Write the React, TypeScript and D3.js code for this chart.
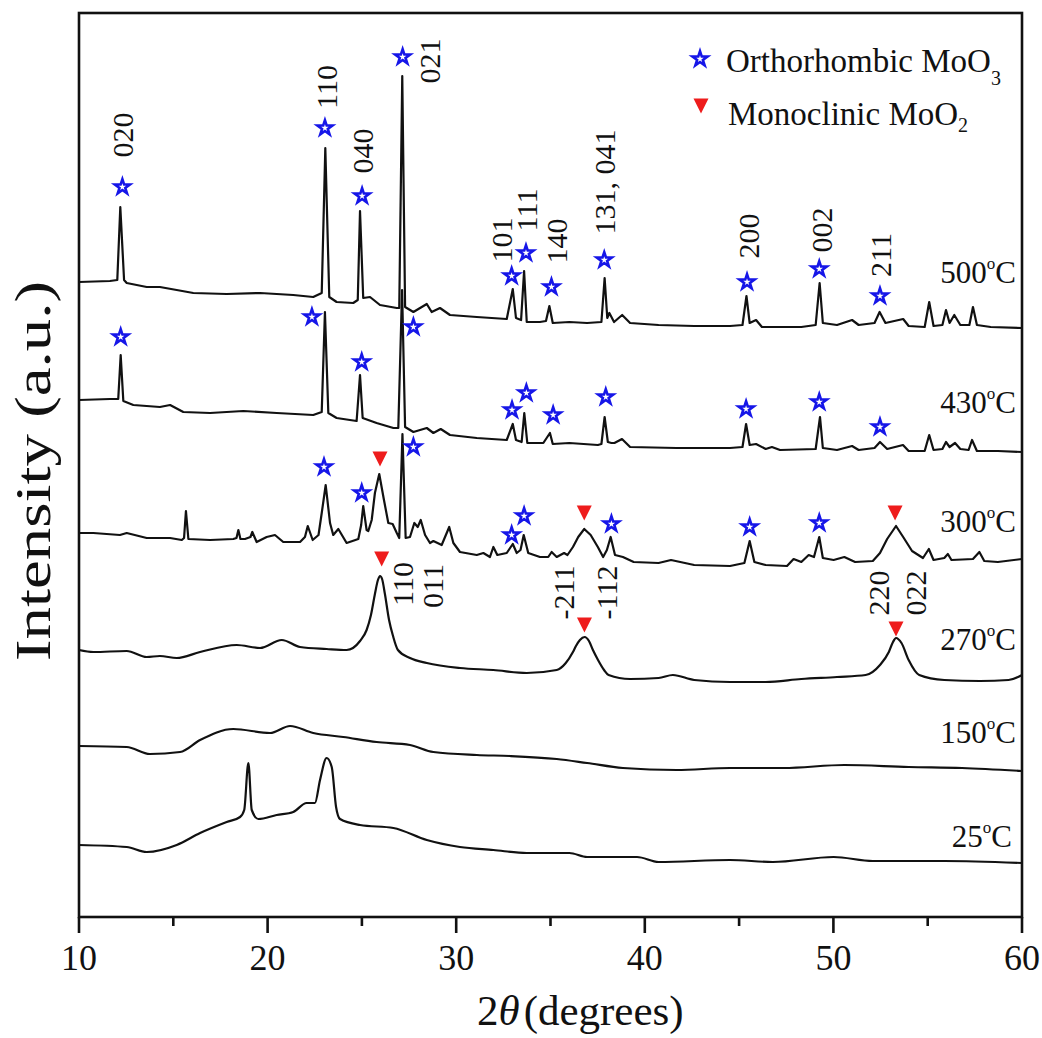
import React from "react";
import * as d3 from "d3";

// ---- XRD patterns: [2θ (deg), stacked intensity (a.u.)] ----
const pattern500: [number, number][] = [
  [10.0, 635], [11.64, 636], [12.03, 637], [12.19, 710], [12.39, 637], [12.53, 634], [13.59, 630],
  [14.29, 630], [15.18, 627], [16.06, 624], [17.83, 623], [19.6, 624], [21.36, 622], [22.42, 620],
  [22.87, 624], [23.06, 769], [23.27, 620], [23.66, 615], [24.54, 614], [24.78, 617], [24.9, 706],
  [25.07, 619], [25.43, 620], [25.96, 612], [26.85, 609], [26.98, 609], [27.14, 841], [27.29, 610],
  [27.73, 605], [28.44, 613], [28.7, 605], [29.14, 609], [29.67, 602], [31.09, 600], [32.68, 598],
  [33.0, 628], [33.17, 599], [33.44, 597], [33.6, 646], [33.74, 595], [34.44, 595], [34.76, 596],
  [34.94, 611], [35.12, 594], [36.0, 595], [36.94, 594], [37.7, 595], [37.87, 639], [38.01, 599],
  [38.12, 604], [38.37, 595], [38.8, 602], [39.22, 594], [40.73, 592], [42.62, 591], [44.52, 591],
  [45.18, 592], [45.39, 621], [45.56, 594], [45.9, 597], [46.21, 590], [48.3, 590], [49.06, 592],
  [49.27, 634], [49.44, 594], [50.19, 592], [50.99, 597], [51.34, 592], [52.18, 594], [52.45, 605],
  [52.76, 594], [53.7, 598], [53.99, 591], [54.84, 590], [55.08, 615], [55.31, 591], [55.78, 592],
  [55.97, 607], [56.16, 594], [56.41, 602], [56.73, 592], [57.21, 592], [57.4, 610], [57.61, 592],
  [58.34, 590], [60.0, 589],
];

const pattern430: [number, number][] = [
  [10.0, 517], [11.64, 518], [12.08, 518], [12.21, 562], [12.35, 516], [12.88, 512], [14.29, 510],
  [14.83, 512], [15.53, 505], [16.95, 504], [18.71, 506], [20.48, 504], [22.42, 502], [22.87, 505],
  [23.04, 605], [23.22, 504], [23.66, 499], [24.72, 496], [24.9, 542], [25.04, 499], [25.78, 494],
  [26.67, 489], [26.93, 489], [27.13, 627], [27.29, 490], [27.73, 485], [28.44, 489], [28.79, 484],
  [29.18, 488], [29.67, 482], [31.09, 479], [32.68, 477], [33.0, 493], [33.17, 477], [33.47, 475],
  [33.61, 504], [33.77, 474], [34.62, 474], [34.97, 484], [35.12, 473], [36.0, 474], [37.51, 472],
  [37.7, 473], [37.87, 500], [38.04, 475], [38.23, 474], [38.39, 474], [38.79, 478], [39.22, 470],
  [41.68, 469], [44.52, 469], [45.18, 470], [45.37, 493], [45.56, 472], [45.9, 473], [46.41, 468],
  [46.74, 470], [47.17, 467], [49.06, 468], [49.29, 500], [49.44, 469], [50.19, 467], [50.99, 471],
  [51.34, 467], [52.18, 469], [52.47, 475], [52.85, 468], [53.69, 472], [53.99, 466], [54.84, 466],
  [55.08, 482], [55.31, 467], [55.78, 468], [55.97, 475], [56.16, 470], [56.45, 474], [56.73, 468],
  [57.17, 467], [57.35, 477], [57.61, 466], [58.72, 466], [60.0, 465],
];

const pattern300: [number, number][] = [
  [10.0, 384], [10.76, 384], [12.17, 382], [12.53, 384], [13.59, 379], [14.83, 379], [15.45, 377],
  [15.57, 379], [15.67, 406], [15.8, 378], [16.95, 377], [18.18, 378], [18.35, 379], [18.45, 387],
  [18.56, 378], [18.8, 378], [19.09, 380], [19.19, 385], [19.42, 375], [19.95, 380], [20.39, 382],
  [20.83, 375], [21.72, 375], [21.98, 380], [22.13, 391], [22.39, 377], [22.7, 382], [22.87, 404],
  [23.08, 432], [23.31, 394], [23.48, 382], [23.75, 388], [24.19, 374], [24.81, 378], [24.96, 392],
  [25.07, 411], [25.25, 387], [25.34, 386], [25.52, 397], [25.69, 424], [25.92, 443], [26.17, 417],
  [26.4, 394], [26.63, 393], [26.85, 384], [26.98, 379], [27.15, 483], [27.32, 379], [27.55, 380],
  [27.78, 394], [27.96, 390], [28.12, 397], [28.35, 382], [28.61, 374], [28.79, 376], [29.23, 372],
  [29.63, 390], [29.85, 374], [30.2, 365], [31.09, 362], [31.44, 364], [31.79, 360], [31.97, 370],
  [32.18, 362], [32.68, 364], [33.0, 373], [33.21, 364], [33.41, 367], [33.58, 382], [33.82, 364],
  [34.44, 360], [34.88, 360], [35.06, 365], [35.33, 360], [35.72, 364], [35.9, 362], [36.19, 370],
  [36.47, 380], [36.79, 388], [37.13, 382], [37.51, 370], [37.79, 360], [37.99, 367], [38.19, 380],
  [38.42, 362], [38.84, 360], [39.41, 355], [40.73, 354], [41.39, 357], [42.62, 352], [44.52, 351],
  [45.28, 354], [45.56, 376], [45.81, 355], [46.41, 352], [47.54, 351], [47.89, 358], [48.3, 355],
  [48.69, 362], [48.97, 360], [49.25, 380], [49.44, 359], [50.01, 357], [50.58, 360], [51.15, 355],
  [52.09, 356], [52.47, 364], [52.85, 378], [53.32, 391], [53.7, 380], [54.17, 366], [54.75, 359],
  [55.06, 368], [55.31, 357], [55.88, 359], [56.07, 363], [56.26, 357], [57.4, 358], [57.74, 365],
  [58.0, 356], [58.72, 355], [60.0, 358],
];

const pattern270: [number, number][] = [
  [10.0, 267], [10.76, 265], [12.53, 266], [13.59, 260], [14.29, 261], [15.18, 259], [16.42, 265],
  [18.36, 272], [19.6, 269], [20.75, 277], [21.72, 270], [23.13, 268], [24.19, 267], [24.9, 276],
  [25.25, 287], [25.48, 302], [25.69, 323], [25.85, 337], [25.96, 341], [26.07, 338], [26.22, 323],
  [26.44, 297], [26.65, 281], [26.91, 267], [27.55, 259], [28.44, 254], [30.2, 249], [31.97, 247],
  [33.74, 244], [35.33, 247], [35.81, 254], [36.19, 265], [36.35, 271], [36.56, 277], [36.81, 280],
  [37.04, 276], [37.25, 267], [37.52, 257], [37.84, 247], [38.08, 242], [39.22, 238], [40.73, 239],
  [41.49, 242], [42.62, 237], [44.52, 235], [46.41, 235], [48.3, 238], [50.19, 240], [51.71, 242],
  [52.47, 252], [52.94, 265], [53.16, 275], [53.32, 279], [53.61, 274], [53.99, 257], [54.55, 242],
  [55.88, 237], [57.77, 236], [59.29, 237], [60.0, 242],
];

const pattern150: [number, number][] = [
  [10.0, 171], [12.53, 170], [13.76, 163], [15.36, 165], [16.42, 177], [18.18, 188], [20.13, 184],
  [21.19, 191], [22.42, 184], [24.01, 180], [25.78, 175], [27.55, 172], [28.79, 165], [31.09, 162],
  [32.85, 161], [35.33, 158], [36.94, 154], [38.84, 149], [41.68, 147], [44.52, 149], [47.36, 149],
  [50.58, 152], [53.99, 150], [56.82, 149], [60.0, 146],
];

const pattern25: [number, number][] = [
  [10.0, 72], [12.53, 70], [13.59, 65], [15.18, 72], [16.42, 84], [17.83, 95], [18.54, 100],
  [18.76, 107], [18.98, 154], [19.16, 107], [19.51, 98], [20.48, 102], [21.36, 105], [22.07, 114],
  [22.51, 114], [22.78, 137], [23.13, 159], [23.4, 150], [23.63, 110], [23.84, 98], [24.9, 92],
  [26.67, 89], [28.44, 77], [30.2, 70], [31.97, 67], [33.74, 64], [36.0, 64], [36.94, 60],
  [39.59, 60], [40.73, 55], [44.52, 57], [46.79, 55], [50.01, 60], [52.09, 56], [55.88, 56],
  [60.0, 54],
];

// sharp crystalline patterns are joined with straight segments, the broad ones smoothly
const patterns = [pattern500, pattern430, pattern300, pattern270, pattern150, pattern25];
const smoothPattern = [false, false, false, true, true, true];

// ---- sample temperatures and where their labels sit ----
const temperatures = ["500", "430", "300", "270", "150", "25"];
const temperatureLabelY = [634, 504, 385, 267, 174, 70];
const temperatureLabelX = [59.68, 59.68, 59.68, 59.68, 59.68, 59.47];

// ---- phase markers [2θ, stacked intensity] ----
const orthorhombicMoO3: [number, number][] = [
  // 500 °C
  [12.3, 730], [23.04, 789], [25.01, 721], [27.16, 860], [32.94, 641], [33.7, 664], [35.05, 630],
  [37.85, 657], [45.42, 635], [49.25, 648], [52.47, 621],
  // 430 °C
  [12.21, 580], [22.35, 600], [24.99, 555], [27.73, 590], [32.96, 507], [33.72, 524], [35.14, 502],
  [37.93, 520], [45.37, 508], [49.25, 515], [52.47, 490],
  // 300 °C
  [22.99, 450], [24.99, 424], [27.73, 470], [32.94, 382], [33.6, 401], [38.23, 393], [45.56, 390],
  [49.25, 394],
];

const monoclinicMoO2: [number, number][] = [
  // 300 °C
  [25.96, 458], [36.79, 404], [53.27, 404],
  // 270 °C
  [26.05, 358], [36.8, 292], [53.32, 288],
];

// ---- Miller indices [text, 2θ, intensity] ----
const reflectionNames = [
  "020", "110", "040", "021", "101", "111", "140", "131, 041", "200", "002", "211",
  "110", "011", "-211", "-112", "220", "022",
];
const reflectionTheta = [
  12.88, 23.66, 25.59, 29.14, 32.94, 34.28, 35.9, 38.42, 46.03, 49.93, 53.05,
  27.73, 29.3, 36.25, 38.53, 52.95, 54.91,
];
const reflectionY = [
  782, 830, 766, 856, 677, 707, 676, 735, 681, 687, 662,
  333, 331, 324.5, 324.5, 324, 324,
];

const X_DOMAIN: [number, number] = [10, 60];
const Y_DOMAIN: [number, number] = [0, 904];
const X_TICKS = [10, 20, 30, 40, 50, 60];
const X_MINOR_TICKS = [15, 25, 35, 45, 55];

const FONT = "'Liberation Serif', 'Times New Roman', Times, serif";
const BLUE = "#1616e8";
const RED = "#ee1c1c";

const plot = { left: 79, right: 1022, top: 13, bottom: 917 };

const starPath = d3.symbol(d3.symbolStar, 70)() as string;
const trianglePath = "M-7.5,-7.5L7.5,-7.5L0,7.5Z";

export default function App() {
  const x = d3.scaleLinear().domain(X_DOMAIN).range([plot.left, plot.right]);
  const y = d3.scaleLinear().domain(Y_DOMAIN).range([plot.bottom, plot.top]);
  const sharpLine = d3
    .line<[number, number]>()
    .x((d) => x(d[0]))
    .y((d) => y(d[1]));
  const smoothLine = d3
    .line<[number, number]>()
    .curve(d3.curveMonotoneX)
    .x((d) => x(d[0]))
    .y((d) => y(d[1]));

  return (
    <svg
      width={1042}
      height={1038}
      viewBox="0 0 1042 1038"
      style={{ position: "absolute", left: 0, top: 0, background: "#fff" }}
      fontFamily={FONT}
    >
      <rect width={1042} height={1038} fill="#fff" />

      {/* diffraction patterns */}
      <g fill="none" stroke="#111" strokeWidth={2.2} strokeLinejoin="round">
        {patterns.map((p, i) => (
          <path key={i} d={(smoothPattern[i] ? smoothLine(p) : sharpLine(p)) as string} />
        ))}
      </g>

      {/* frame */}
      <rect
        x={plot.left}
        y={plot.top}
        width={plot.right - plot.left}
        height={plot.bottom - plot.top}
        fill="none"
        stroke="#111"
        strokeWidth={2.6}
      />

      {/* x axis ticks */}
      <g stroke="#111" strokeWidth={2.6}>
        {X_TICKS.map((t) => (
          <line key={t} x1={x(t)} x2={x(t)} y1={plot.bottom} y2={plot.bottom + 16} />
        ))}
        {X_MINOR_TICKS.map((t) => (
          <line key={t} x1={x(t)} x2={x(t)} y1={plot.bottom} y2={plot.bottom + 9} />
        ))}
      </g>
      <g fontSize={36} textAnchor="middle" fill="#111">
        {X_TICKS.map((t) => (
          <text key={t} x={x(t)} y={970}>
            {t}
          </text>
        ))}
      </g>

      {/* axis titles */}
      <text x={477} y={1025} fontSize={43} fill="#111">
        2<tspan fontStyle="italic">θ</tspan>
        <tspan dx={4}>(degrees)</tspan>
      </text>
      <text
        transform="translate(50,471) rotate(-90)"
        fontSize={50}
        textAnchor="middle"
        textLength={380}
        lengthAdjust="spacingAndGlyphs"
        fill="#111"
      >
        Intensity (a.u.)
      </text>

      {/* phase markers */}
      <g fill="#fff" stroke={BLUE} strokeWidth={2.6} strokeLinejoin="miter">
        {orthorhombicMoO3.map((d, i) => (
          <path key={i} d={starPath} transform={`translate(${x(d[0])},${y(d[1])})`} />
        ))}
      </g>
      <g fill={RED}>
        {monoclinicMoO2.map((d, i) => (
          <path key={i} d={trianglePath} transform={`translate(${x(d[0])},${y(d[1])})`} />
        ))}
      </g>

      {/* Miller indices */}
      <g fontSize={30} textAnchor="middle" fill="#111">
        {reflectionNames.map((name, i) => (
          <text
            key={i}
            transform={`translate(${x(reflectionTheta[i])},${y(reflectionY[i])}) rotate(-90)`}
          >
            {name}
          </text>
        ))}
      </g>

      {/* temperature labels */}
      <g fontSize={31} textAnchor="end" fill="#111">
        {temperatures.map((t, i) => (
          <text key={t} x={x(temperatureLabelX[i])} y={y(temperatureLabelY[i])}>
            {t}
            <tspan fontSize={17} dy={-14}>
              o
            </tspan>
            <tspan dy={14}>C</tspan>
          </text>
        ))}
      </g>

      {/* legend */}
      <g fill="#111" fontSize={33}>
        <path d={starPath} transform="translate(700,59)" fill="#fff" stroke={BLUE} strokeWidth={2.6} />
        <text x={726} y={72}>
          Orthorhombic MoO
          <tspan fontSize={20} dy={13}>
            3
          </tspan>
        </text>
        <path d={trianglePath} transform="translate(701,106)" fill={RED} />
        <text x={728} y={125}>
          Monoclinic MoO
          <tspan fontSize={20} dy={7}>
            2
          </tspan>
        </text>
      </g>
    </svg>
  );
}
